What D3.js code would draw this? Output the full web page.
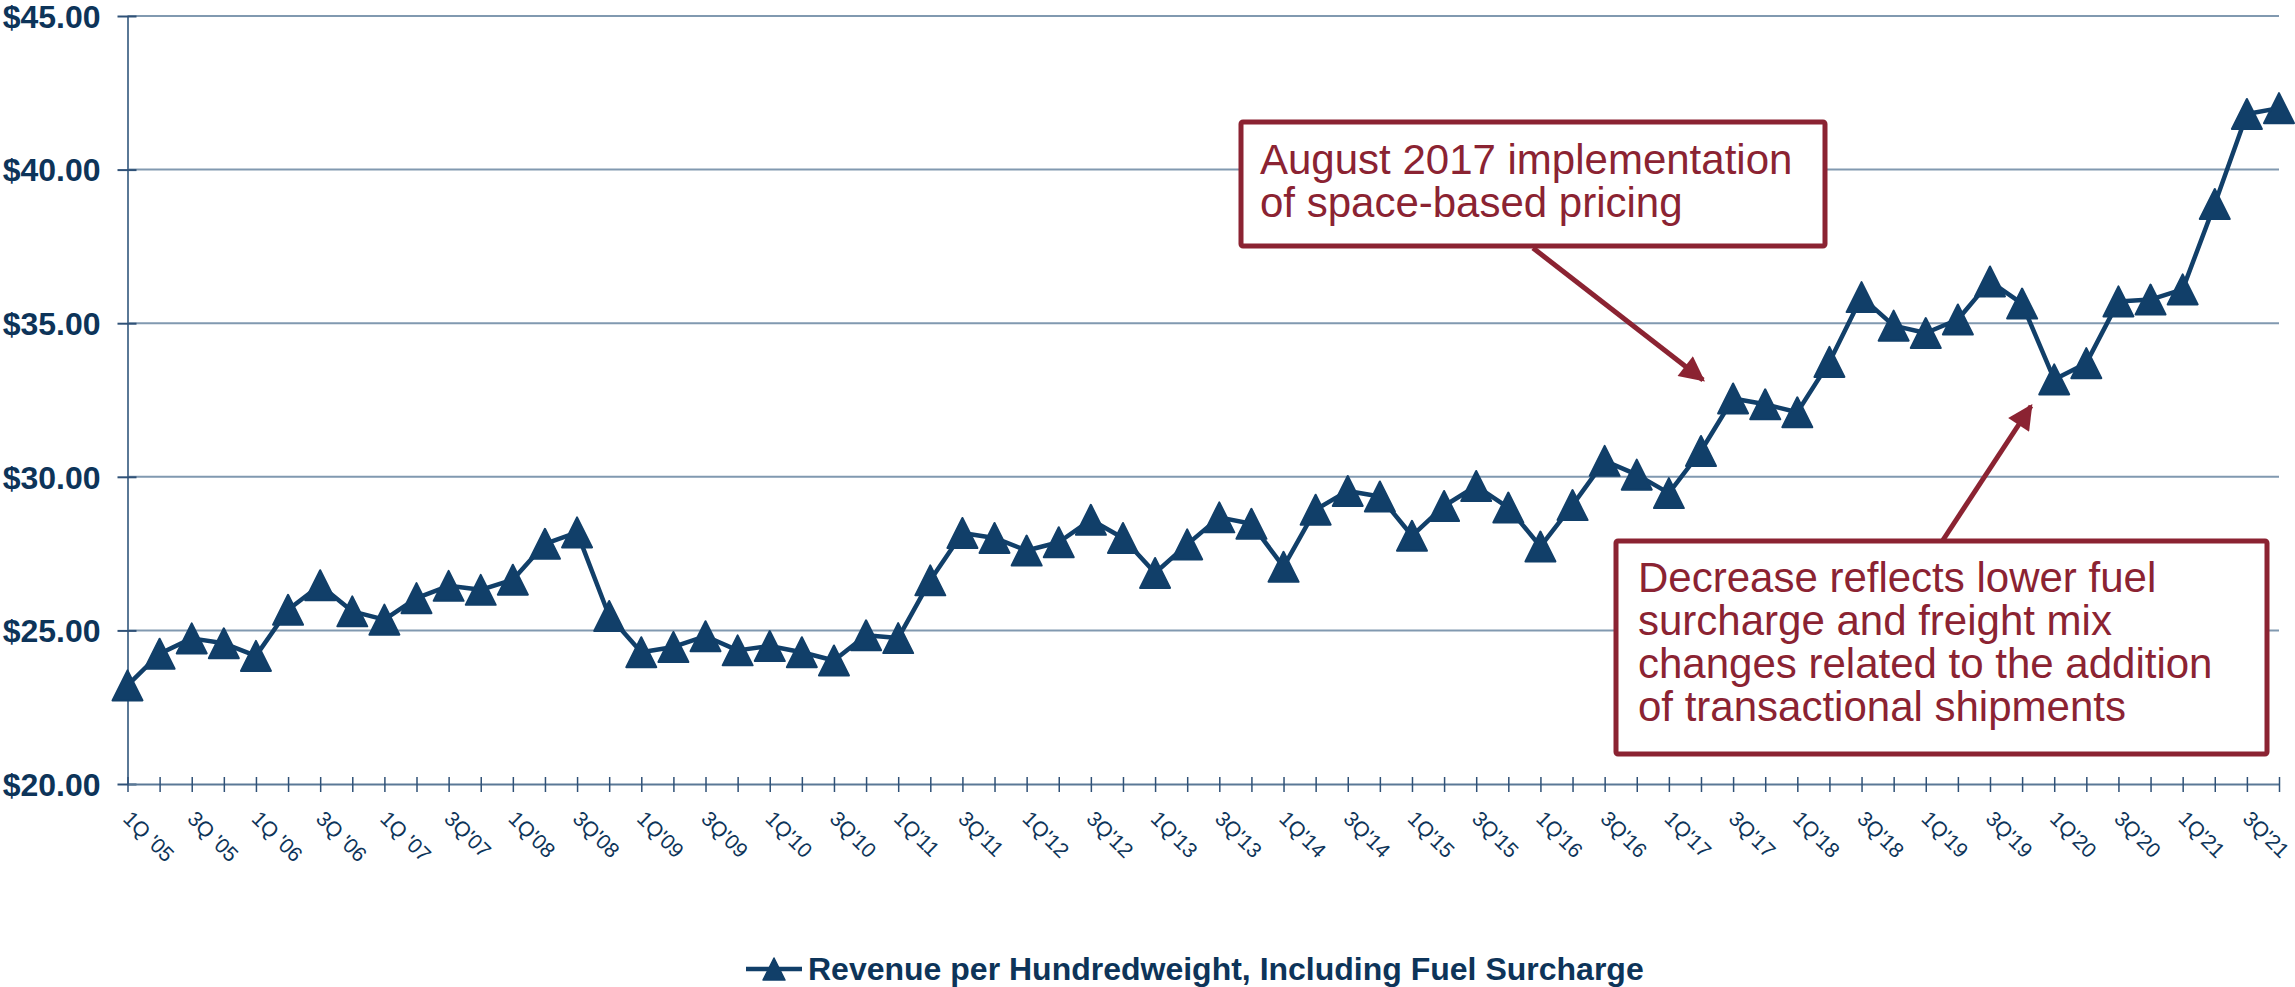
<!DOCTYPE html>
<html>
<head>
<meta charset="utf-8">
<script src="https://cdn.jsdelivr.net/npm/d3@7"></script>
<style>
  body { margin: 0; background: #fff; }
  svg { display: block; font-family: "Liberation Sans", Arial, sans-serif; }
</style>
</head>
<body>
<div id="chart"></div>
<script>
// quarters on the x axis, one point each
var quarters = [
  "1Q05","2Q05","3Q05","4Q05","1Q06","2Q06","3Q06","4Q06",
  "1Q07","2Q07","3Q07","4Q07","1Q08","2Q08","3Q08","4Q08",
  "1Q09","2Q09","3Q09","4Q09","1Q10","2Q10","3Q10","4Q10",
  "1Q11","2Q11","3Q11","4Q11","1Q12","2Q12","3Q12","4Q12",
  "1Q13","2Q13","3Q13","4Q13","1Q14","2Q14","3Q14","4Q14",
  "1Q15","2Q15","3Q15","4Q15","1Q16","2Q16","3Q16","4Q16",
  "1Q17","2Q17","3Q17","4Q17","1Q18","2Q18","3Q18","4Q18",
  "1Q19","2Q19","3Q19","4Q19","1Q20","2Q20","3Q20","4Q20",
  "1Q21","2Q21","3Q21","4Q21"
];

// labels shown under every other quarter
var tickLabels = [
  "1Q '05","3Q '05","1Q '06","3Q '06","1Q '07","3Q'07","1Q'08","3Q'08",
  "1Q'09","3Q'09","1Q'10","3Q'10","1Q'11","3Q'11","1Q'12","3Q'12",
  "1Q'13","3Q'13","1Q'14","3Q'14","1Q'15","3Q'15","1Q'16","3Q'16",
  "1Q'17","3Q'17","1Q'18","3Q'18","1Q'19","3Q'19","1Q'20","3Q'20",
  "1Q'21","3Q'21"
];

// revenue per hundredweight incl. fuel surcharge ($)
var revenue = [
  23.21, 24.24, 24.74, 24.58, 24.17, 25.67, 26.47, 25.62,
  25.35, 26.05, 26.45, 26.32, 26.65, 27.82, 28.19, 25.47,
  24.29, 24.46, 24.81, 24.35, 24.49, 24.29, 24.02, 24.84,
  24.75, 26.63, 28.17, 28.01, 27.60, 27.87, 28.60, 28.01,
  26.87, 27.80, 28.68, 28.47, 27.07, 28.93, 29.54, 29.36,
  28.08, 29.05, 29.70, 29.00, 27.73, 29.08, 30.52, 30.07,
  29.47, 30.84, 32.55, 32.36, 32.10, 33.74, 35.85, 34.92,
  34.68, 35.12, 36.36, 35.64, 33.17, 33.70, 35.71, 35.77,
  36.10, 38.88, 41.81, 42.00
];

var yTicks = [20, 25, 30, 35, 40, 45];
var seriesName = "Revenue per Hundredweight, Including Fuel Surcharge";
var note1 = ["August 2017 implementation", "of space-based pricing"];
var note2 = ["Decrease reflects lower fuel", "surcharge and freight mix",
             "changes related to the addition", "of transactional shipments"];

var W = 2295, H = 987;
var plotLeft = 127.5, plotRight = 2279, plotTop = 16, plotBottom = 784;

var navy = "#113f69";
var textNavy = "#0d3459";
var red = "#8b2332";
var gridCol = "#8199b0";

var data = quarters.map(function (q, i) { return { q: q, v: revenue[i] }; });

var svg = d3.select("#chart").append("svg")
    .attr("width", W)
    .attr("height", H);

var x = d3.scalePoint().domain(quarters).range([plotLeft, plotRight]);
var y = d3.scaleLinear().domain([20, 45]).range([plotBottom, plotTop]);

// gridlines
svg.append("g").selectAll("line")
    .data(yTicks.slice(1))
    .enter().append("line")
    .attr("x1", plotLeft).attr("x2", plotRight)
    .attr("y1", d => y(d)).attr("y2", d => y(d))
    .attr("stroke", gridCol)
    .attr("stroke-width", 2);

// y axis
var yAxis = d3.axisLeft(y)
    .tickValues(yTicks)
    .tickSize(10)
    .tickSizeOuter(0)
    .tickPadding(17)
    .tickFormat(d3.format("$.2f"));

var yAxisG = svg.append("g")
    .attr("transform", "translate(" + plotLeft + ",0)")
    .call(yAxis);
yAxisG.select(".domain").attr("stroke", "#5a7896").attr("stroke-width", 2);
yAxisG.selectAll(".tick line").attr("x1", 9).attr("stroke", "#2f5177").attr("stroke-width", 2);
yAxisG.selectAll(".tick text")
    .attr("fill", textNavy)
    .style("font-size", "32px")
    .style("font-weight", "bold")
    .attr("dy", "0.35em");

// x axis
var xAxis = d3.axisBottom(x)
    .tickSize(8)
    .tickSizeOuter(0)
    .tickFormat(function (d, i) { return i % 2 === 0 ? tickLabels[i / 2] : ""; });

var xAxisG = svg.append("g")
    .attr("transform", "translate(0," + plotBottom + ")")
    .call(xAxis);
xAxisG.select(".domain").attr("stroke", "#5a7896").attr("stroke-width", 2);
xAxisG.selectAll(".tick line").attr("y1", -7).attr("stroke", "#2f5177").attr("stroke-width", 1.5);
xAxisG.selectAll(".tick text")
    .attr("fill", textNavy)
    .style("font-size", "21px")
    .attr("text-anchor", "start")
    .attr("x", -6)
    .attr("y", 36)
    .attr("dy", 0)
    .attr("transform", "rotate(45,-6,36)");

// series line
var line = d3.line()
    .x(d => x(d.q))
    .y(d => y(d.v));

svg.append("path")
    .datum(data)
    .attr("d", line)
    .attr("fill", "none")
    .attr("stroke", navy)
    .attr("stroke-width", 4.5)
    .attr("stroke-linejoin", "round");

// triangle markers
var tri = "M0,-15L15,15L-15,15Z";
svg.append("g").selectAll("path")
    .data(data)
    .enter().append("path")
    .attr("d", tri)
    .attr("transform", d => "translate(" + x(d.q) + "," + y(d.v) + ")")
    .attr("fill", navy)
    .attr("stroke", navy)
    .attr("stroke-width", 2)
    .attr("stroke-linejoin", "round");

// arrow head
svg.append("defs").append("marker")
    .attr("id", "arrow")
    .attr("viewBox", "0 0 10 10")
    .attr("refX", 9).attr("refY", 5)
    .attr("markerWidth", 5.5).attr("markerHeight", 5)
    .attr("orient", "auto")
    .append("path")
    .attr("d", "M0,0L10,5L0,10Z")
    .attr("fill", red);

// annotation 1
svg.append("line")
    .attr("x1", 1533).attr("y1", 248)
    .attr("x2", 1703).attr("y2", 380)
    .attr("stroke", red).attr("stroke-width", 5)
    .attr("marker-end", "url(#arrow)");

svg.append("rect")
    .attr("x", 1241).attr("y", 122)
    .attr("width", 584).attr("height", 124)
    .attr("fill", "#fff")
    .attr("stroke", red).attr("stroke-width", 5).attr("rx", 2);

svg.append("g").selectAll("text")
    .data(note1)
    .enter().append("text")
    .attr("x", 1260)
    .attr("y", (d, i) => 174 + i * 43)
    .attr("fill", red)
    .style("font-size", "42px")
    .text(d => d);

// annotation 2
svg.append("line")
    .attr("x1", 1943).attr("y1", 540)
    .attr("x2", 2031).attr("y2", 406)
    .attr("stroke", red).attr("stroke-width", 5)
    .attr("marker-end", "url(#arrow)");

svg.append("rect")
    .attr("x", 1616).attr("y", 541)
    .attr("width", 651).attr("height", 213)
    .attr("fill", "#fff")
    .attr("stroke", red).attr("stroke-width", 5).attr("rx", 2);

svg.append("g").selectAll("text")
    .data(note2)
    .enter().append("text")
    .attr("x", 1638)
    .attr("y", (d, i) => 592 + i * 43)
    .attr("fill", red)
    .style("font-size", "42px")
    .text(d => d);

// legend
var lg = svg.append("g").attr("transform", "translate(746,969)");
lg.append("line")
    .attr("x1", 0).attr("x2", 56)
    .attr("stroke", navy).attr("stroke-width", 4.5);
lg.append("path")
    .attr("d", "M0,-11L11,11L-11,11Z")
    .attr("transform", "translate(28,0)")
    .attr("fill", navy)
    .attr("stroke", navy).attr("stroke-width", 1.5).attr("stroke-linejoin", "round");
lg.append("text")
    .attr("x", 62)
    .attr("dy", "0.35em")
    .attr("fill", textNavy)
    .style("font-size", "32px")
    .style("font-weight", "bold")
    .text(seriesName);
</script>
</body>
</html>
